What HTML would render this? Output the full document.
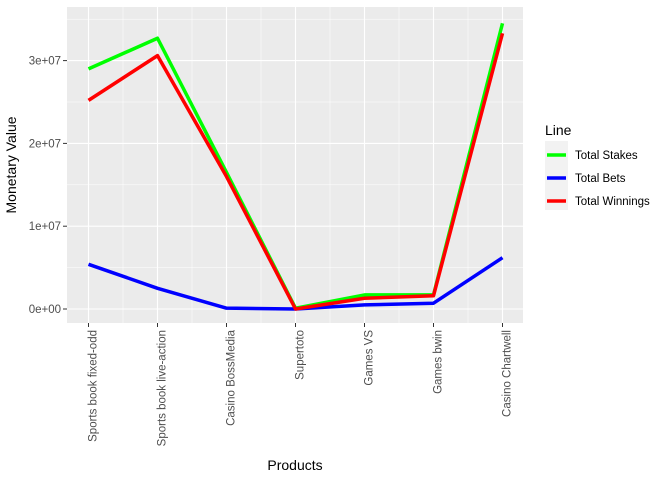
<!DOCTYPE html>
<html><head><meta charset="utf-8"><style>
body{margin:0;background:#fff;font-family:"Liberation Sans",Arial,sans-serif}
</style></head><body>
<svg width="672" height="480" xmlns="http://www.w3.org/2000/svg">
<rect x="67" y="7" width="456" height="316" fill="#EBEBEB"/>
<g id="grid"></g><g id="lines"></g><g id="axes"></g>
<text x="16" y="165" transform="rotate(-90 16 165)" text-anchor="middle" font-size="14" fill="#000">Monetary Value</text>
<text x="295" y="470" text-anchor="middle" font-size="14" fill="#000">Products</text>
<g>
<text x="545" y="135" font-size="14" fill="#000">Line</text>
<rect x="545" y="141" width="23" height="69" fill="#F2F2F2"/>
<g id="legend-items"></g>
</g>
</svg>
<script>
const categories=["Sports book fixed-odd","Sports book live-action","Casino BossMedia","Supertoto","Games VS","Games bwin","Casino Chartwell"];
const stakes=[29.0e6,32.7e6,16.5e6,0.1e6,1.7e6,1.7e6,34.5e6];
const bets=[5.4e6,2.5e6,0.1e6,0.0e6,0.5e6,0.7e6,6.2e6];
const winnings=[25.2e6,30.6e6,16.0e6,0.0e6,1.3e6,1.6e6,33.3e6];
const yTicks=[0,1e7,2e7,3e7];
const yTickLabels=["0e+00","1e+07","2e+07","3e+07"];
const seriesNames=["Total Stakes","Total Bets","Total Winnings"];
const NS="http://www.w3.org/2000/svg";
const x=i=>88.5+i*69;
const y=v=>309-v*82.8/1e7;
function mk(t,a,p){const e=document.createElementNS(NS,t);for(const k in a)e.setAttribute(k,a[k]);p.appendChild(e);return e;}
const grid=document.getElementById('grid'),axes=document.getElementById('axes'),lines=document.getElementById('lines');
for(let i=0;i<yTicks.length;i++){
 const g=mk('line',{x1:67,x2:523,y1:y(yTicks[i]),y2:y(yTicks[i]),stroke:'#fff','stroke-width':1.1},grid);
 
 if(i<yTicks.length-1){const m=mk('line',{x1:67,x2:523,y1:y((yTicks[i]+yTicks[i+1])/2),y2:y((yTicks[i]+yTicks[i+1])/2),stroke:'#fff','stroke-width':0.5},grid);
 }
 mk('line',{x1:63,x2:67,y1:y(yTicks[i]),y2:y(yTicks[i]),stroke:'#333','stroke-width':1},axes);
 const t=mk('text',{x:61,y:y(yTicks[i])+4,'text-anchor':'end','font-size':11.5,fill:'#4D4D4D'},axes);t.textContent=yTickLabels[i];
 
}
mk('line',{x1:67,x2:523,y1:y(3.5e7),y2:y(3.5e7),stroke:'#fff','stroke-width':0.5},grid);
categories.forEach((c,i)=>{
 const g=mk('line',{x1:x(i),x2:x(i),y1:7,y2:323,stroke:'#fff','stroke-width':1.1},grid);
 
 if(i<categories.length-1)mk('line',{x1:x(i)+34.5,x2:x(i)+34.5,y1:7,y2:323,stroke:'#fff','stroke-width':0.5},grid);
 mk('line',{x1:x(i),x2:x(i),y1:323,y2:327,stroke:'#333','stroke-width':1},axes);
 const t=mk('text',{x:0,y:0,'text-anchor':'end','font-size':11.5,fill:'#4D4D4D',transform:`translate(${x(i)+8},330) rotate(-90)`},axes);
 t.textContent=c;
});
const colors=["#00FF00","#0000FF","#FF0000"];
[stakes,bets,winnings].forEach((s,k)=>{
 const p=mk('polyline',{points:s.map((v,i)=>x(i)+','+y(v)).join(' '),fill:'none',stroke:colors[k],'stroke-width':3.5,'stroke-linejoin':'round'},lines);
 
});
const li=document.getElementById('legend-items');
seriesNames.forEach((n,k)=>{
 const yy=155+k*23;
 const l=mk('line',{x1:547,x2:566,y1:yy,y2:yy,stroke:colors[k],'stroke-width':3.5},li);
 
 const t=mk('text',{x:575,y:yy+4,'font-size':11.5,fill:'#000'},li);t.textContent=n;
 
});
</script>
</body></html>
